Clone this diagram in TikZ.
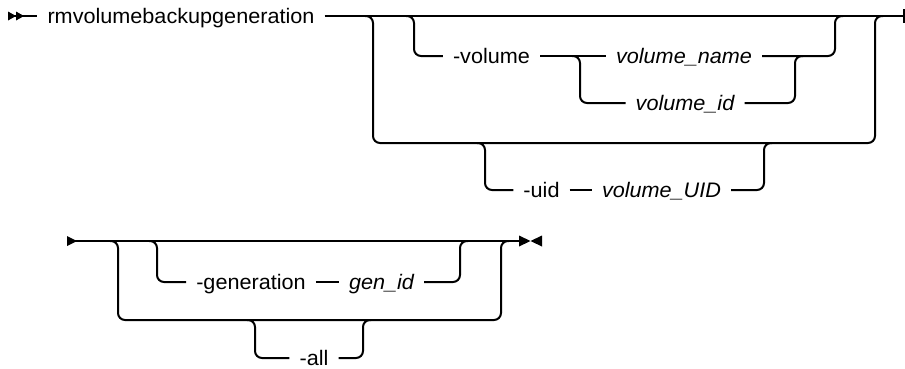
\documentclass[tikz,border=0pt]{standalone}
\usepackage{fontspec}
\setmainfont[FakeStretch=1.03]{Liberation Sans}
\begin{document}
\begin{tikzpicture}[x=1pt,y=-1pt,
  conn/.style={line width=2pt, rounded corners=7pt},
  lbl/.style={inner xsep=10pt, inner ysep=0pt, text height=14pt, text depth=0pt, anchor=center, font=\fontsize{21}{25}\selectfont},
  var/.style={lbl, font=\fontsize{21}{25}\selectfont\itshape},
  tip/.style={fill=black, draw=none}]
\useasboundingbox (0,0) rectangle (905,368);
% ---------- row 1 ----------
\node[lbl] (cmd)  at (181,16)    {rmvolumebackupgeneration};
\node[lbl] (vol)  at (491.5,56)  {-volume};
\node[var] (vname) at (684,56)   {volume\_name};
\node[var] (vid)  at (685,103)   {volume\_id};
\node[lbl] (uid)  at (541.5,190) {-uid};
\node[var] (vuid) at (661.5,190) {volume\_UID};
\coordinate (s1) at (8,16);
\coordinate (e1) at (904,16);
\fill[tip] (8,11.5) -- (16,16) -- (8,20.5) -- cycle;
\fill[tip] (16,11.5) -- (24,16) -- (16,20.5) -- cycle;
\draw[conn] (s1) -- (cmd.west);
\draw[conn] (cmd.east) -- (e1);
\draw[line width=2pt] (904,9) -- (904,23);
% outer optional group
\draw[conn] (365,16) -| (373,143) -| (875,16) -- (883,16);
% -volume branch
\draw[conn] (406,16) -| (414,56) -- (vol.west);
\draw[conn] (vol.east) -- (vname.west);
\draw[conn] (vname.east) -| (835,16) -- (843,16);
\draw[conn] (572,56) -| (580,103) -- (vid.west);
\draw[conn] (vid.east) -| (795,56) -- (803,56);
% -uid branch
\draw[conn] (477,143) -| (485,190) -- (uid.west);
\draw[conn] (uid.east) -- (vuid.west);
\draw[conn] (vuid.east) -| (764,143) -- (772,143);
% ---------- row 2 ----------
\node[lbl] (gen) at (251,282)   {-generation};
\node[var] (gid) at (381.5,282) {gen\_id};
\node[lbl] (all) at (314,358)   {-all};
\coordinate (s2) at (67,241);
\coordinate (e2) at (519,241);
\fill[tip] (67,236) -- (77,241) -- (67,246) -- cycle;
\draw[conn] (s2) -- (e2);
\fill[tip] (519,235.5) -- (530.5,241) -- (519,246.5) -- cycle;
\fill[tip] (542,235.5) -- (530.5,241) -- (542,246.5) -- cycle;
\draw[conn] (110,241) -| (118,320) -| (501,241) -- (509,241);
\draw[conn] (149,241) -| (157,282) -- (gen.west);
\draw[conn] (gen.east) -- (gid.west);
\draw[conn] (gid.east) -| (460,241) -- (468,241);
\draw[conn] (247,320) -| (255,358) -- (all.west);
\draw[conn] (all.east) -| (363,320) -- (371,320);
\end{tikzpicture}
\end{document}
